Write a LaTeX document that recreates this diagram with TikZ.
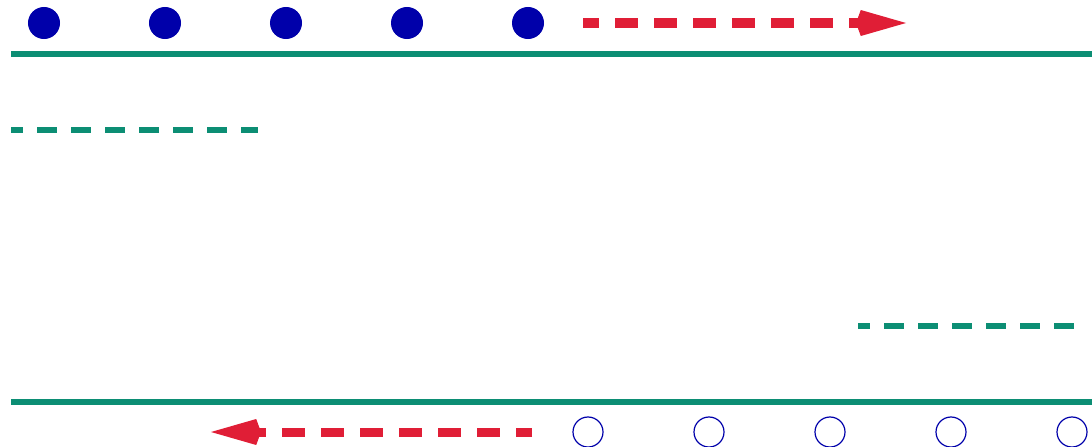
\documentclass[tikz,border=0pt]{standalone}
\usepackage{tikz}
\usetikzlibrary{positioning, arrows.meta}
\definecolor{wallgreen}{RGB}{12,142,116}
\definecolor{flowred}{RGB}{224,30,54}
\definecolor{ionblue}{RGB}{0,0,170}

\begin{document}
\begin{tikzpicture}[>=Latex, x=0.025cm, y=-0.025cm]
  \useasboundingbox (0,0) rectangle (1092,447);
  % walls
  \draw[wallgreen, line width=0.15cm] (11,54) -- (1092,54);
  \draw[wallgreen, line width=0.15cm] (11,402) -- (1092,402);
  \draw[wallgreen, line width=0.15cm, dash pattern=on 0.5cm off 0.35cm, dash phase=0.19cm] (11,130) -- (258,130);
  \draw[wallgreen, line width=0.15cm, dash pattern=on 0.5cm off 0.35cm, dash phase=0.19cm] (858,326) -- (1078,326);
  % nodes
  \foreach \i in {1,...,5}{
    \node[circle, fill=ionblue, minimum size=0.8cm, inner sep=0] (D\i) at ({44+121*(\i-1)},23) {};
    \node[circle, draw=ionblue, line width=0.03cm, minimum size=0.75cm, inner sep=0] (H\i) at ({588+121*(\i-1)},432) {};
  }
  \coordinate (fwdS) at (583,23);
  \coordinate (fwdE) at (906,23);
  \coordinate (bwdS) at (532,432);
  \coordinate (bwdE) at (211,432);
  % flow arrows
  \draw[flowred, line width=0.225cm, dash pattern=on 0.575cm off 0.4cm, dash phase=0.175cm,
        -{Kite[length=1.25cm, width=0.65cm, inset=0.12cm, line width=0pt]}] (fwdS) -- (fwdE);
  \draw[flowred, line width=0.225cm, dash pattern=on 0.575cm off 0.4cm, dash phase=0.175cm,
        -{Kite[length=1.25cm, width=0.65cm, inset=0.12cm, line width=0pt]}] (bwdS) -- (bwdE);
\end{tikzpicture}
\end{document}
